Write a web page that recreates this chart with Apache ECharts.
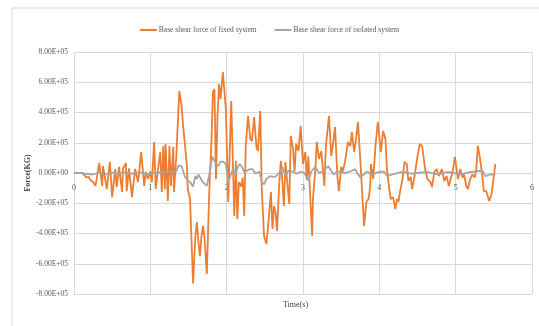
<!DOCTYPE html>
<html>
<head>
<meta charset="utf-8">
<script src="https://cdn.jsdelivr.net/npm/echarts@6/dist/echarts.min.js"></script>
<style>
  html, body { margin: 0; padding: 0; background: #ffffff; }
  #chart { width: 539px; height: 326px; }
</style>
</head>
<body>
<div id="chart"></div>
<script>
// Time axis ticks (s)
const timeTicks = [0, 1, 2, 3, 4, 5, 6];
// Force axis ticks
const forceTicks = [-8e5, -6e5, -4e5, -2e5, 0, 2e5, 4e5, 6e5, 8e5];

// Base shear force of fixed system: time (s) and force (x1e5)
const fixedTime = [
  0.00, 0.10, 0.13, 0.16, 0.19, 0.22, 0.25, 0.28, 0.30, 0.33, 0.37, 0.38, 0.43, 0.47, 0.50,
  0.54, 0.56, 0.59, 0.63, 0.64, 0.68, 0.69, 0.72, 0.76, 0.80, 0.84, 0.88, 0.92, 0.94, 0.97,
  1.00, 1.02, 1.05, 1.07, 1.10, 1.13, 1.15, 1.17, 1.19, 1.20, 1.23, 1.25, 1.27, 1.30, 1.31,
  1.34, 1.38, 1.41, 1.43, 1.45, 1.48, 1.49, 1.52, 1.56, 1.59, 1.61, 1.63, 1.65, 1.67, 1.69,
  1.71, 1.74, 1.77, 1.80, 1.82, 1.84, 1.86, 1.88, 1.90, 1.92, 1.95, 1.99, 2.02, 2.06, 2.10,
  2.12, 2.14, 2.16, 2.19, 2.21, 2.23, 2.25, 2.28, 2.31, 2.33, 2.36, 2.39, 2.41, 2.44, 2.46,
  2.49, 2.52, 2.54, 2.58, 2.60, 2.62, 2.64, 2.66, 2.69, 2.71, 2.73, 2.75, 2.77, 2.79, 2.82,
  2.84, 2.87, 2.89, 2.91, 2.94, 2.97, 3.00, 3.03, 3.05, 3.07, 3.09, 3.12, 3.13, 3.16, 3.18,
  3.21, 3.24, 3.28, 3.30, 3.34, 3.37, 3.39, 3.42, 3.45, 3.47, 3.50, 3.52, 3.55, 3.59, 3.62,
  3.64, 3.67, 3.69, 3.72, 3.75, 3.77, 3.80, 3.83, 3.86, 3.88, 3.89, 3.92, 3.95, 3.98, 4.02,
  4.05, 4.08, 4.10, 4.13, 4.15, 4.18, 4.21, 4.23, 4.25, 4.27, 4.30, 4.33, 4.36, 4.38, 4.41,
  4.43, 4.46, 4.50, 4.53, 4.56, 4.60, 4.63, 4.67, 4.69, 4.72, 4.75, 4.78, 4.80, 4.82, 4.85,
  4.88, 4.91, 4.94, 4.96, 4.99, 5.03, 5.06, 5.09, 5.11, 5.14, 5.16, 5.19, 5.22, 5.25, 5.27,
  5.29, 5.32, 5.35, 5.37, 5.40, 5.42, 5.44, 5.47, 5.49, 5.52
];
const fixedForce = [
  0, 0, -0.1, -0.3, -0.25, -0.5, -0.6, -0.85, -0.3, 0.66, -0.86, 0.46, -1.06, 0.73, -1.6,
  0.26, -0.93, 0.40, -1.26, 0.26, 0.66, -1.2, 0.3, -1.6, 0.26, -0.6, 1.39, -0.86, 0.07, -0.4,
  0.1, -0.6, 2.05, -1.06, 0.2, 1.39, -1.26, 1.79, -1.06, 1.92, -1.85, 1.79, -0.86, 1.72, -1.26,
  1.12, 5.42, 4.43, 3.1, 3.04, 0.46, -1.06, -1.7, -7.3, -4.17, -3.24, -4.56, -5.5, -4.17, -3.5,
  -4.3, -6.68, -1.5, 2.05, 5.36, 5.55, -0.4, 3.77, 5.88, 4.9, 6.68, 4.2, -1.92, 4.76, -2.84,
  0.8, -3.04, -0.6, -0.9, -0.3, -2.84, 1.79, 3.77, 2.25, 2.1, 3.7, 1.72, 1.45, 4.1, -1.06,
  -4.17, -4.7, -3.7, -1.26, -3.7, -2.18, -2.6, -3.84, -0.6, 0.8, -0.6, -2.18, 0.73, -0.4, -2.05,
  2.45, 1.59, 0.1, 1.92, 1.45, 3.1, 0.6, 1.39, -0.46, 1.1, -1.06, -4.17, -1.72, 0.07, 2.05,
  0.93, 1.45, -0.86, 1.79, 3.77, 1.12, 1.8, 3.04, -0.2, -1.2, 0.4, 0.1, 0.73, 2.05, 1.79,
  2.7, 1.39, 2.05, 3.37, 0.93, -0.86, -3.5, -1.92, -1.7, -0.9, 0.6, -0.4, 1.79, 3.37, 1.39,
  2.78, 2.25, 0.26, -1.06, -1.72, -1.6, -2.38, -1.72, -1.9, -1.26, -0.5, 0.73, 0.6, -0.53, -0.26,
  -1.06, -0.26, 1.12, 1.92, 1.79, 0.26, -0.4, -0.6, -0.93, 0.07, 0.26, -0.2, -0.2, 0.26, -0.53,
  -0.2, -0.86, -0.3, 0.07, 1.06, -0.4, 0.26, -0.3, -0.1, -0.86, -1.06, -0.4, -0.1, -0.3, 0.26,
  1.79, 0.93, -0.26, -1.2, -1.2, -1.26, -1.85, -1.39, -1.5, 0.6
];

// Base shear force of isolated system: time (s) and force (x1e5)
const isolatedTime = [
  0.00, 0.10, 0.15, 0.25, 0.33, 0.40, 0.50, 0.58, 0.66, 0.75, 0.85, 0.95, 1.05, 1.15, 1.25,
  1.30, 1.34, 1.37, 1.41, 1.45, 1.49, 1.52, 1.56, 1.59, 1.61, 1.63, 1.68, 1.74, 1.77, 1.81,
  1.83, 1.86, 1.89, 1.92, 1.95, 1.99, 2.02, 2.05, 2.08, 2.12, 2.14, 2.17, 2.20, 2.23, 2.25,
  2.30, 2.34, 2.38, 2.43, 2.46, 2.49, 2.52, 2.57, 2.61, 2.65, 2.70, 2.73, 2.77, 2.81, 2.86,
  2.92, 2.97, 3.02, 3.07, 3.11, 3.16, 3.21, 3.27, 3.33, 3.40, 3.45, 3.55, 3.62, 3.68, 3.75,
  3.84, 3.90, 3.98, 4.06, 4.10, 4.20, 4.28, 4.35, 4.42, 4.50, 4.58, 4.65, 4.72, 4.80, 4.88,
  4.95, 5.02, 5.10, 5.18, 5.25, 5.35, 5.39, 5.45, 5.52
];
const isolatedForce = [
  0, 0, -0.05, -0.1, 0.05, -0.1, 0.05, -0.08, 0.05, -0.05, 0.05, -0.08, 0, 0.05, 0.1,
  0.05, 0.1, 0.5, 0.45, -0.2, -0.5, -0.6, -0.9, -0.2, -0.4, -0.1, -0.55, -0.85, -0.2, 1.1,
  1.05, 0.6, 0.45, 0.75, 0.75, 0.6, -0.6, -0.2, 0.25, -0.05, 0.3, 0.6, 0.4, 0.05, 0.15,
  0.25, 0.25, -0.05, 0.1, -0.6, -0.75, -0.4, -0.2, -0.25, -0.2, 0.1, 0.4, -0.2, 0.15, 0.1,
  -0.05, 0.1, 0, -0.5, 0.1, 0.4, 0, 0.15, 0.46, -0.1, 0.1, 0, 0.1, 0.25, -0.3,
  0.1, -0.1, 0.05, 0.1, -0.2, -0.05, 0.05, 0.05, -0.05, 0, 0.05, 0.05, -0.05, -0.05, 0.05,
  0.05, -0.05, -0.05, 0.05, 0.1, 0.15, -0.2, -0.1, -0.1
];

const UNIT = 1e5;
const fixedData = fixedTime.map((t, i) => [t, fixedForce[i] * UNIT]);
const isolatedData = isolatedTime.map((t, i) => [t, isolatedForce[i] * UNIT]);

// Scientific notation with a two-digit exponent, e.g. 8.00E+05
function sci(v) {
  if (v === 0) return '0.00E+00';
  const exp = Math.floor(Math.log10(Math.abs(v)));
  const mant = v / Math.pow(10, exp);
  const sign = exp < 0 ? '-' : '+';
  return mant.toFixed(2) + 'E' + sign + String(Math.abs(exp)).padStart(2, '0');
}

const FONT = 'Liberation Serif';
const TEXT = '#595959';
const GRID = '#d9d9d9';
const GRID_BOTTOM = 32;

const chart = echarts.init(document.getElementById('chart'), null, { renderer: 'canvas' });
chart.setOption({
  animation: false,
  backgroundColor: '#ffffff',
  graphic: [{
    type: 'rect',
    shape: { x: 12, y: 8, width: 540, height: 330 },
    style: { fill: 'none', stroke: '#d9d9d9', lineWidth: 1 },
    silent: true
  }],
  title: {
    text: 'Time(s)',
    left: 283,
    top: 301,
    padding: 0,
    textStyle: { fontFamily: FONT, fontSize: 8, fontWeight: 'normal', color: '#404040' }
  },
  legend: {
    top: 21,
    left: 'center',
    itemWidth: 17,
    itemHeight: 2,
    itemGap: 18,
    icon: 'rect',
    textStyle: { fontFamily: FONT, fontSize: 7.5, color: TEXT, padding: [0, 0, 0, -3] },
    data: ['Base shear force of fixed system', 'Base shear force of isolated system']
  },
  grid: { left: 74, right: 7, top: 52, bottom: GRID_BOTTOM },
  xAxis: {
    type: 'value',
    position: 'bottom',
    min: timeTicks[0],
    max: timeTicks[timeTicks.length - 1],
    interval: 1,
    axisLine: { show: false, onZero: false },
    axisTick: { show: false },
    axisLabel: { fontFamily: FONT, fontSize: 8, color: TEXT, margin: 11 },
    splitLine: { show: true, lineStyle: { color: GRID, width: 1 } }
  },
  yAxis: {
    type: 'value',
    min: forceTicks[0],
    max: forceTicks[forceTicks.length - 1],
    interval: 2e5,
    name: 'Force(KG)',
    nameLocation: 'middle',
    nameRotate: 90,
    nameGap: 42,
    nameMoveOverlap: false,
    nameTextStyle: { fontFamily: FONT, fontSize: 8, fontWeight: 'bold', color: '#404040' },
    axisLine: { show: false },
    axisTick: { show: false },
    axisLabel: { fontFamily: FONT, fontSize: 7.5, color: TEXT, margin: 6, formatter: sci },
    splitLine: { show: true, lineStyle: { color: GRID, width: 1 } }
  },
  series: [{
    name: 'Base shear force of fixed system',
    type: 'line',
    data: fixedData,
    showSymbol: false,
    smooth: false,
    lineStyle: { color: '#ED7D31', width: 1.8 },
    itemStyle: { color: '#ED7D31' },
    z: 2
  }, {
    name: 'Base shear force of isolated system',
    type: 'line',
    data: isolatedData,
    showSymbol: false,
    smooth: false,
    lineStyle: { color: '#A5A5A5', width: 1.8 },
    itemStyle: { color: '#A5A5A5' },
    z: 3
  }]
});

// Place the time-axis labels on the zero-force line
const zeroY = chart.convertToPixel({ yAxisIndex: 0 }, 0);
const plotBottom = chart.getHeight() - GRID_BOTTOM;
chart.setOption({ xAxis: { offset: zeroY - plotBottom } });
</script>
</body>
</html>
